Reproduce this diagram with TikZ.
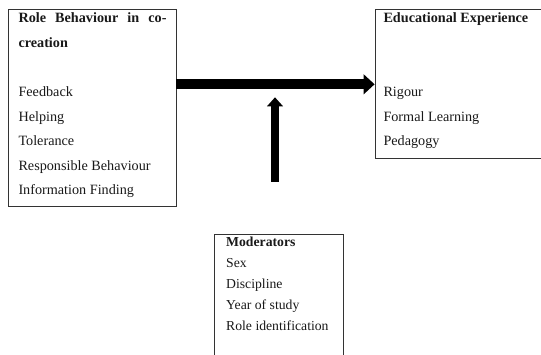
\documentclass[tikz,border=0pt]{standalone}
\usepackage{fontspec}
\setmainfont{Liberation Serif}
\usetikzlibrary{arrows.meta,positioning}

\tikzset{
  box/.style={draw=black!80, line width=0.8pt, inner sep=0pt},
  item/.style={anchor=base west, inner sep=0pt, text=black!90},
  modfont/.style={font=\fontsize{13.7pt}{16pt}\selectfont},
}

\begin{document}
\begin{tikzpicture}[x=1pt, y=-1pt, font=\fontsize{14.2pt}{17pt}\selectfont]
      \useasboundingbox (0,0) rectangle (541,354);

      \node[box, minimum width=167.3pt, minimum height=197.4pt] (role) at (92.35, 108) {};
      \node[box, minimum width=173pt, minimum height=149pt] (edu) at (461.5, 83.5) {};
      \node[box, minimum width=129pt, minimum height=126pt] (mod) at (278.8, 297.3) {};

      \node[item, font=\fontsize{14.2pt}{17pt}\selectfont\bfseries] (roletitle) at (18.3, 22.7) {\makebox[148pt][s]{Role Behaviour in co-}};
      \node[item, font=\fontsize{14.2pt}{17pt}\selectfont\bfseries] (roletitleb) at (18.3, 47.5) {creation};
      \node[item] (feedback) at (18.3, 96.5) {Feedback};
      \node[item] (helping) at (18.3, 121) {Helping};
      \node[item] (tolerance) at (18.3, 145.6) {Tolerance};
      \node[item] (responsible) at (18.3, 170.2) {Responsible Behaviour};
      \node[item] (information) at (18.3, 194.8) {Information Finding};

      \node[item, font=\fontsize{14.2pt}{17pt}\selectfont\bfseries] (edutitle) at (383.3, 22.7) {Educational Experience};
      \node[item] (rigour) at (383.3, 96.5) {Rigour};
      \node[item] (formal) at (383.3, 121) {Formal Learning};
      \node[item] (pedagogy) at (383.3, 145.6) {Pedagogy};

      \node[item, modfont, font=\fontsize{13.7pt}{16pt}\selectfont\bfseries] (modtitle) at (226, 246.7) {Moderators};
      \node[item, modfont] (sex) at (226, 267.6) {Sex};
      \node[item, modfont] (discipline) at (226, 288.4) {Discipline};
      \node[item, modfont] (year) at (226, 309.2) {Year of study};
      \node[item, modfont] (roleid) at (226, 330) {Role identification};

      % main effect
      \coordinate (link) at (0, 84.3);
      \draw[line width=10pt, -{Triangle[length=11pt, width=19.5pt]}] (role.east |- link) -- (edu.west |- link);

      % moderating effect
      \coordinate (modtail) at (275, 181.7);
      \coordinate (modhead) at (275, 97.3);
      \draw[line width=8pt, -{Triangle[length=9pt, width=15.5pt]}] (modtail) -- (modhead);
\end{tikzpicture}
\end{document}
